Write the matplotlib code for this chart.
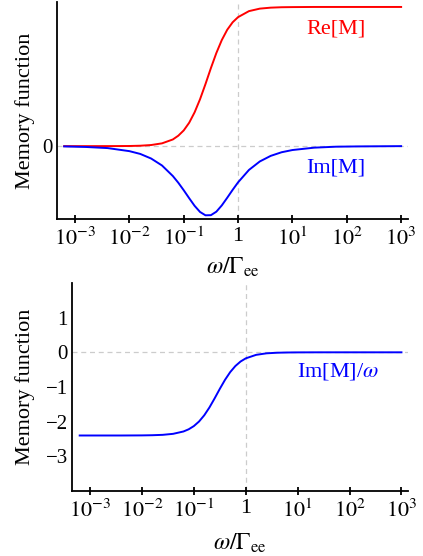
import numpy as np
import matplotlib
matplotlib.use("Agg")
from matplotlib import pyplot as plt

plt.rcParams['font.family'] = ['Liberation Serif', 'DejaVu Serif']
plt.rcParams['mathtext.fontset'] = 'stix'
plt.rcParams['axes.unicode_minus'] = True

# log10(omega / Gamma_ee) sample positions
log_w = [-3.2, -2.8, -2.4, -2.0, -1.8, -1.6, -1.4, -1.2, -1.1, -1.0, -0.9, -0.8,
         -0.7, -0.6, -0.5, -0.4, -0.3, -0.2, -0.1, 0.0, 0.2, 0.4, 0.6, 0.8,
         1.0, 1.4, 1.8, 2.2, 2.6, 3.0]

# top panel (arbitrary units, plateau of Re[M] = 1)
re_m = [0.0, 0.0, 0.0002, 0.001, 0.003, 0.008, 0.020, 0.048, 0.075, 0.113,
        0.168, 0.243, 0.337, 0.446, 0.561, 0.669, 0.762, 0.836, 0.890, 0.927,
        0.970, 0.988, 0.995, 0.998, 0.999, 1.0, 1.0, 1.0, 1.0, 1.0]
im_m = [-0.002, -0.006, -0.014, -0.036, -0.056, -0.089, -0.139, -0.215, -0.263,
        -0.317, -0.374, -0.429, -0.473, -0.497, -0.496, -0.471, -0.426, -0.371,
        -0.314, -0.260, -0.171, -0.110, -0.070, -0.044, -0.028, -0.011, -0.004,
        -0.002, -0.001, 0.0]

# bottom panel
im_m_over_w = [-2.40, -2.40, -2.40, -2.397, -2.392, -2.381, -2.352, -2.284,
               -2.221, -2.128, -1.996, -1.817, -1.591, -1.329, -1.054, -0.794,
               -0.571, -0.395, -0.265, -0.174, -0.073, -0.029, -0.012, -0.005,
               -0.002, 0.0, 0.0, 0.0, 0.0, 0.0]

xtick_vals = [1e-3, 1e-2, 1e-1, 1, 1e1, 1e2, 1e3]
xtick_labels = [r'$10^{-3}$', r'$10^{-2}$', r'$10^{-1}$', '1',
                r'$10^{1}$', r'$10^{2}$', r'$10^{3}$']

w = 10 ** np.array(log_w)

fig = plt.figure(figsize=(4.23, 5.56), dpi=100)


def style(ax, xlim, ylab_x, xlab_y):
    ax.set_xscale('log')
    ax.set_xlim(*xlim)
    ax.set_xticks(xtick_vals)
    ax.set_xticklabels(xtick_labels)
    ax.xaxis.set_minor_locator(matplotlib.ticker.NullLocator())
    ax.spines['top'].set_visible(False)
    ax.spines['right'].set_visible(False)
    ax.spines['left'].set_linewidth(1.3)
    ax.spines['bottom'].set_linewidth(1.3)
    ax.tick_params(axis='x', direction='inout', length=6, width=1.3,
                   labelsize=16, pad=3)
    ax.tick_params(axis='y', length=0, labelsize=15, pad=3)
    ax.axhline(0, color='#cccccc', ls=(0, (4, 3)), lw=0.9, zorder=0)
    ax.axvline(1, color='#cccccc', ls=(0, (4, 3)), lw=0.9, zorder=0)
    ax.set_xlabel(r'$\omega/\Gamma_{\rm ee}$', fontsize=17)
    ax.xaxis.set_label_coords(0.5, xlab_y)
    ax.xaxis.label.set_va('center')
    ax.set_ylabel('Memory function', fontsize=16)
    ax.yaxis.set_label_coords(ylab_x, 0.5)
    ax.yaxis.label.set_va('center')


# top panel
ax1 = fig.add_axes([0.135, 0.606, 0.83, 0.39])
ax1.plot(w, re_m, color='#ff0000', lw=1.4)
ax1.plot(w, im_m, color='#0000ff', lw=1.4)
style(ax1, (10 ** -3.33, 10 ** 3.13), -0.091, -0.221)
ax1.set_ylim(-0.524, 1.034)
ax1.set_yticks([0])
ax1.set_yticklabels(['0'])
ax1.text(63, 0.84, 'Re[M]', color='#ff0000', fontsize=16, ha='center', va='center')
ax1.text(63, -0.16, 'Im[M]', color='#0000ff', fontsize=16, ha='center', va='center')

# bottom panel
ax2 = fig.add_axes([0.170, 0.117, 0.795, 0.374])
ax2.plot(w, im_m_over_w, color='#0000ff', lw=1.4)
style(ax2, (10 ** -3.35, 10 ** 3.13), -0.14, -0.252)
ax2.set_ylim(-4.0, 2.0)
ax2.set_yticks([1, 0, -1, -2, -3])
ax2.text(60, -0.55, r'Im[M]/$\omega$', color='#0000ff', fontsize=16,
         ha='center', va='center')

fig.savefig('out.png', dpi=100)
